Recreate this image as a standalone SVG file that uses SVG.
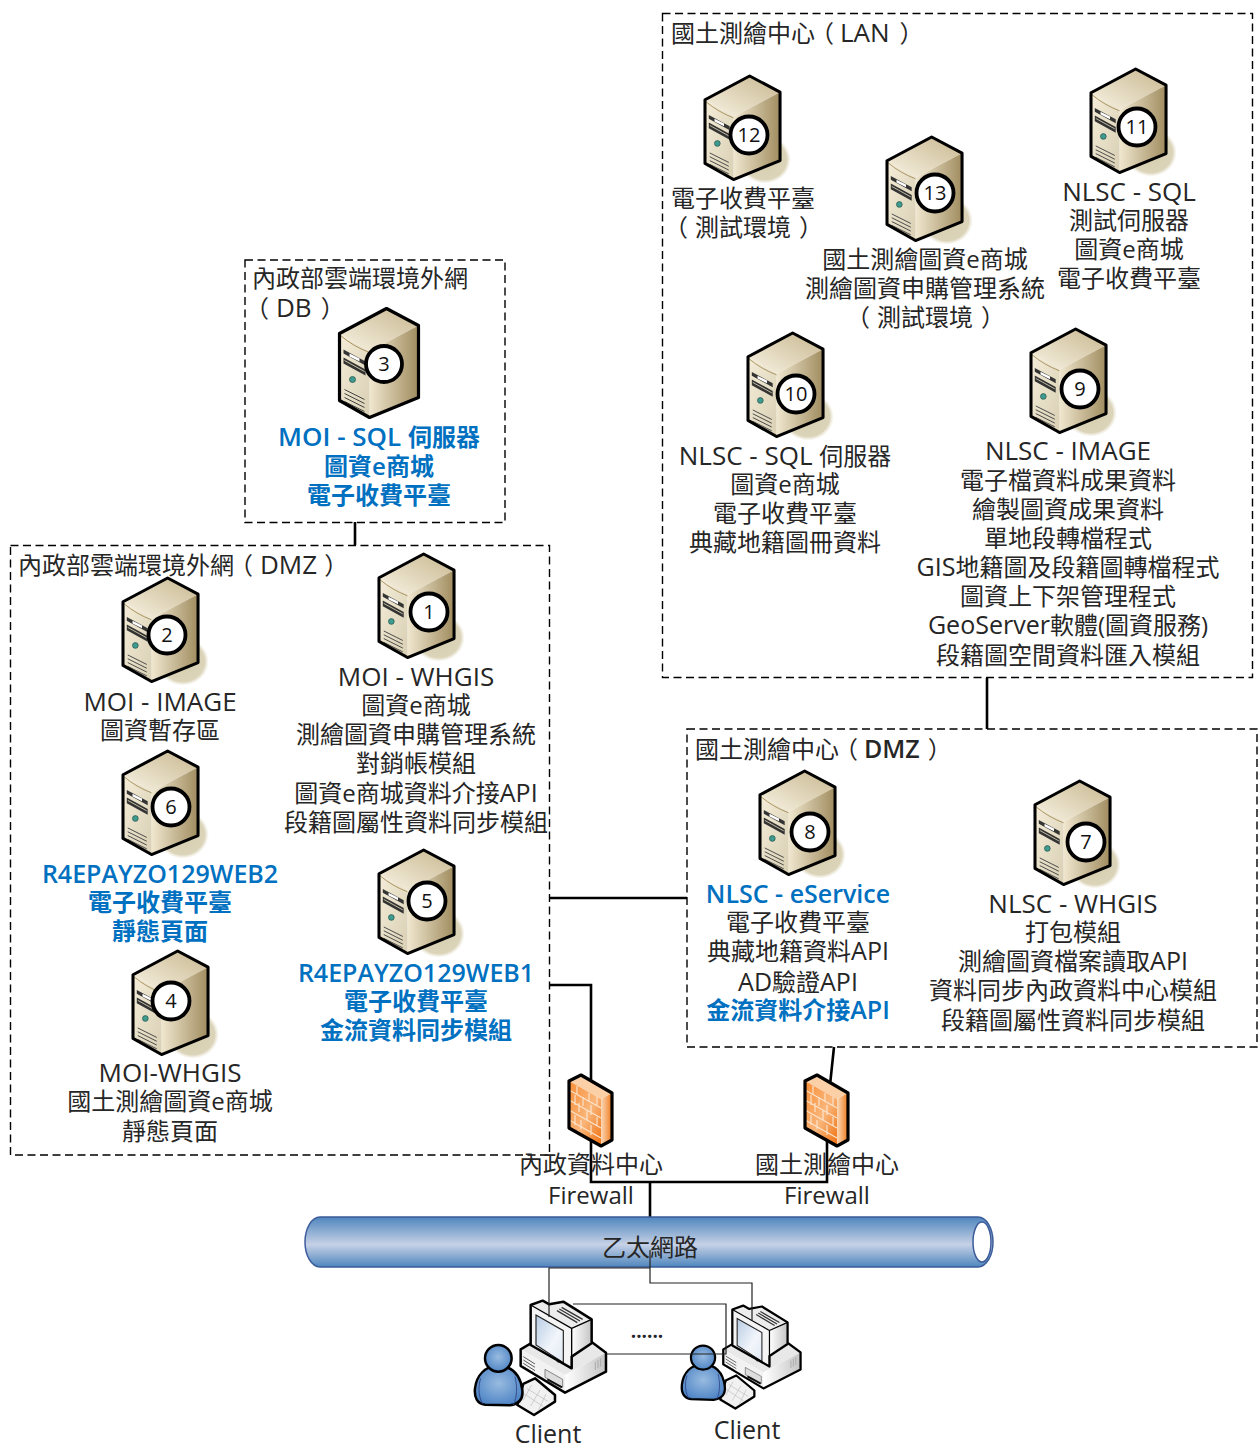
<svg xmlns="http://www.w3.org/2000/svg" width="1260" height="1448" viewBox="0 0 1260 1448">
<style>
text{font-family:"Open Sans","Noto Sans CJK TC",sans-serif;font-size:24px;fill:#262626}
.m{text-anchor:middle}
.b{fill:#0070c0;font-weight:600}
.bold{font-weight:600}
.l{font-size:26px}
.s{font-size:25px}
.box{fill:none;stroke:#000;stroke-width:1.4;stroke-dasharray:8 4.500}
.con{fill:none;stroke:#000;stroke-width:2.6}
.thin{fill:none;stroke:#222;stroke-width:1.200}
.badge{fill:#fff;stroke:#000;stroke-width:3.8}
.bt{font-size:20px;text-anchor:middle;fill:#111}
.ol{stroke:#000;stroke-width:3.200;stroke-linejoin:round}
.pc{stroke:#000;stroke-width:7.500;stroke-linejoin:round}
</style>
<defs>
<linearGradient id="sf" x1="0" y1="0" x2="1" y2="1"><stop offset="0" stop-color="#f5edd8"/><stop offset="1" stop-color="#d8cfb4"/></linearGradient>
<linearGradient id="ss" x1="0" y1="0" x2="1" y2="0"><stop offset="0" stop-color="#f0e7cf"/><stop offset="1" stop-color="#a08c5f"/></linearGradient>
<linearGradient id="st" x1="0" y1="1" x2="1" y2="0"><stop offset="0" stop-color="#f8f3e4"/><stop offset="1" stop-color="#c8b78f"/></linearGradient>
<radialGradient id="sh"><stop offset="0" stop-color="#d6ceae"/><stop offset=".85" stop-color="#dbd4b9"/><stop offset="1" stop-color="#ece8d8" stop-opacity=".2"/></radialGradient>
<linearGradient id="ff" x1="0" y1="0" x2="1" y2="1"><stop offset="0" stop-color="#f88d36"/><stop offset=".55" stop-color="#f9b67a"/><stop offset="1" stop-color="#f07010"/></linearGradient>
<linearGradient id="fs" x1="0" y1="0" x2="1" y2="0"><stop offset="0" stop-color="#fbd9b8"/><stop offset="1" stop-color="#ef7a1c"/></linearGradient>
<linearGradient id="pipe" x1="0" y1="0" x2="0" y2="1"><stop offset="0" stop-color="#4f86bd"/><stop offset=".55" stop-color="#c6d1e6"/><stop offset="1" stop-color="#4f86bd"/></linearGradient>
<radialGradient id="ub" cx=".5" cy=".45" r=".6"><stop offset="0" stop-color="#98bbe0"/><stop offset="1" stop-color="#4b82c4"/></radialGradient>
<linearGradient id="scr" x1="0" y1="0" x2="1" y2="1"><stop offset="0" stop-color="#b8cce4"/><stop offset=".6" stop-color="#f2f6fb"/><stop offset="1" stop-color="#dfe7f2"/></linearGradient>
<linearGradient id="gr" x1="0" y1="0" x2="1" y2="0"><stop offset="0" stop-color="#fff"/><stop offset="1" stop-color="#c4c4c4"/></linearGradient>
<g id="srv">
<polygon points="0,25 47,0 79,17 30,43" fill="url(#st)"/>
<polygon points="30,43 79,17 79,89 30,109" fill="url(#ss)"/>
<polygon points="0,25 30,43 30,109 0,92" fill="url(#sf)"/>
<path d="M1,27Q14,38 30,44" fill="none" stroke="#a8925f" stroke-width="1"/>
<polygon points="4,41 26,53 26,57 4,45" fill="#333"/>
<polygon points="10,45 20,50 20,53 10,48" fill="#fff"/>
<polygon points="4,49 26,61 26,67 4,55" fill="#333"/>
<path d="M5,52L25,63" stroke="#c9c1a6" stroke-width="1" fill="none"/>
<circle cx="13" cy="71" r="3" fill="#3f9b8f" stroke="#2b5a50" stroke-width=".8"/>
<path d="M5,81L25,91M5,85L25,95M5,89L25,99M5,93L25,103" stroke="#444" stroke-width="1" fill="none"/>
<polygon points="0,25 47,0 79,17 79,89 30,109 0,92" fill="none" class="ol"/>
</g>
<ellipse id="shd" cx="63" cy="88" rx="27" ry="25" fill="url(#sh)"/>
<g id="fw">
<polygon points="0,6 12,0 43,18 32,24" fill="#fbd0a6"/>
<polygon points="0,6 32,24 32,71 0,53" fill="url(#ff)"/>
<polygon points="32,24 43,18 43,65 32,71" fill="url(#fs)"/>
<path d="M0,15L32,33M0,25L32,43M0,35L32,53M0,45L32,63M8,11V20M20,18V27M28,22V31M14,22V31M6,20V30M22,30V40M10,28V37M6,40V50M18,35V45M28,42V51M12,45V54M22,50V60" stroke="#fbe3cb" stroke-width="1.200" fill="none"/>
<polygon points="0,6 12,0 43,18 43,65 32,71 0,53" fill="none" class="ol"/>
</g>
<g id="pc">
<polygon points="182,268 250,228 380,235 438,278 315,345" fill="#e8e8e8"/>
<polygon points="182,268 315,345 315,398 182,318" fill="#f2f2f2"/>
<polygon points="315,345 438,278 438,335 315,398" fill="url(#gr)"/>
<path d="M190,290L225,312M190,300L225,322M190,310L225,332M190,320L220,338" stroke="#333" stroke-width="2.400"/>
<path d="M406,305V330M414,300V325M422,295V320" stroke="#aaa" stroke-width="3"/>
<polygon points="255,328 308,358 308,382 255,352" fill="#ddd" stroke="#555" stroke-width="2"/>
<path d="M262,358L306,382" stroke="#111" stroke-width="6"/>
<polygon points="182,268 250,228 380,235 438,278 438,335 315,398 182,318" fill="none" class="pc"/>
<polygon points="335,205 395,178 395,250 335,290" fill="url(#gr)"/>
<polygon points="212,135 248,122 268,133 310,125 395,178 335,205" fill="#ececec"/>
<path d="M305,142L368,178M298,147L360,183M291,152L352,188" stroke="#333" stroke-width="4"/>
<polygon points="212,135 335,205 335,325 212,255" fill="#f4f4f4"/>
<polygon points="228,165 310,212 310,308 228,255" fill="url(#scr)" stroke="#222" stroke-width="3.500"/>
<circle cx="295" cy="303" r="4" fill="#eee" stroke="#111" stroke-width="2"/>
<polygon points="212,135 248,122 268,133 310,125 395,178 395,250 335,290 335,325 212,255" fill="none" class="pc"/>
<path d="M212,135L335,205V325M335,205L395,178" stroke="#000" stroke-width="4" fill="none"/>
<polygon points="190,372 225,355 285,405 285,425 222,465 172,435" fill="#f1f1f1" class="pc"/>
<path d="M200,385L265,425M190,400L250,440M215,375L190,420M240,390L212,438M258,402L235,452" stroke="#bbb" stroke-width="2" fill="none"/>
<path d="M45,385C50,345 75,320 115,316C160,320 182,350 187,390C190,415 180,432 150,436L75,434C52,432 42,412 45,385Z" fill="url(#ub)" class="pc"/>
<path d="M62,355C52,385 58,415 68,432M165,350C172,380 172,410 160,435" stroke="#2c3e80" stroke-width="2.500" fill="none"/>
<circle cx="115" cy="295" r="40" fill="url(#ub)" class="pc"/>
</g>
</defs>

<g id="frames">
<rect class="box" x="662.5" y="13.5" width="590" height="664"/>
<rect class="box" x="245" y="260" width="260" height="262.500"/>
<rect class="box" x="10.500" y="545.500" width="539" height="609.500"/>
<rect class="box" x="687" y="729" width="570" height="318"/>
</g>

<g id="connectors-back">
<path class="con" d="M355,522V545M987,678V729M550,898H687M550,985H591V1085M591,1140V1182H827V1140M834,1047L830,1085M650,1182V1217"/>
</g>

<g id="ethernet">
<path d="M320,1217H978A15,25 0 0 1 978,1267H320A15,25 0 0 1 320,1217Z" fill="url(#pipe)" stroke="#3b5b9a" stroke-width="1.500"/>
<ellipse cx="982" cy="1242" rx="9" ry="20" fill="#fff" stroke="#3b5b9a" stroke-width="1.500"/>
<text class="m" x="650" y="1256">乙太網路</text>
</g>

<g id="client-left"><use href="#pc" transform="translate(460,1260) scale(.3333)"/><text class="m s" x="548" y="1443">Client</text></g>
<g id="client-right"><use href="#pc" transform="translate(668.300,1269) scale(.302,.3)"/><text class="m s" x="747" y="1439">Client</text></g>

<g id="connectors">
<path class="thin" d="M650,1250V1283H752V1320M650,1268H549V1317M573,1304H726V1354H690M607,1354H690"/>
</g>
<text id="dots" class="m" x="647" y="1338" style="font-size:19px;font-weight:700">......</text>

<g id="firewall-moi"><use href="#fw" x="569" y="1075"/><text class="m" x="591" y="1173">內政資料中心</text><text class="m" x="591" y="1204">Firewall</text></g>
<g id="firewall-nlsc"><use href="#fw" x="805" y="1075"/><text class="m" x="827" y="1173">國土測繪中心</text><text class="m" x="827" y="1204">Firewall</text></g>

<g id="title-lan"><text x="671" y="42">國土測繪中心<tspan dx="-5">（</tspan><tspan class="l" dx="6">LAN</tspan><tspan dx="10">）</tspan></text></g>
<g id="title-db"><text x="252" y="317"><tspan dx="-7">（</tspan><tspan class="l" dx="7">DB</tspan><tspan dx="9">）</tspan></text><text x="252" y="287">內政部雲端環境外網</text></g>
<g id="title-dmz"><text x="18" y="574">內政部雲端環境外網<tspan dx="-5">（</tspan><tspan class="l" dx="7">DMZ</tspan><tspan dx="7">）</tspan></text></g>
<g id="title-ndmz"><text x="695" y="758">國土測繪中心<tspan dx="-5">（</tspan><tspan class="bold s" dx="6">DMZ</tspan><tspan dx="8">）</tspan></text></g>

<g id="node-12"><use href="#shd" transform="translate(705,76) scale(.95)"/><use href="#srv" transform="translate(705,76) scale(.95)"/><circle class="badge" cx="749" cy="135" r="18.500"/><text class="bt" x="749" y="142">12</text>
<text class="m" x="743" y="207">電子收費平臺</text><text x="671" y="236"><tspan dx="-7">（</tspan><tspan dx="7">測試環境</tspan><tspan dx="8">）</tspan></text></g>
<g id="node-11"><use href="#shd" transform="translate(1091,69) scale(.95)"/><use href="#srv" transform="translate(1091,69) scale(.95)"/><circle class="badge" cx="1137" cy="127" r="18.500"/><text class="bt" x="1137" y="134">11</text>
<text class="m l" x="1129" y="201">NLSC - SQL</text><text class="m" x="1129" y="229">測試伺服器</text><text class="m" x="1129" y="258">圖資e商城</text><text class="m" x="1129" y="287">電子收費平臺</text></g>
<g id="node-13"><use href="#shd" transform="translate(887,137) scale(.95)"/><use href="#srv" transform="translate(887,137) scale(.95)"/><circle class="badge" cx="935" cy="193" r="18.500"/><text class="bt" x="935" y="200">13</text>
<text class="m" x="925" y="268">國土測繪圖資e商城</text><text class="m" x="925" y="297">測繪圖資申購管理系統</text><text x="853" y="326"><tspan dx="-7">（</tspan><tspan dx="7">測試環境</tspan><tspan dx="8">）</tspan></text></g>
<g id="node-10"><use href="#shd" transform="translate(748,333) scale(.95)"/><use href="#srv" transform="translate(748,333) scale(.95)"/><circle class="badge" cx="796" cy="394" r="18.500"/><text class="bt" x="796" y="401">10</text>
<text class="m" x="785" y="465"><tspan class="l">NLSC - SQL </tspan>伺服器</text><text class="m" x="785" y="493">圖資e商城</text><text class="m" x="785" y="522">電子收費平臺</text><text class="m" x="785" y="551">典藏地籍圖冊資料</text></g>
<g id="node-9"><use href="#shd" transform="translate(1031,329) scale(.95)"/><use href="#srv" transform="translate(1031,329) scale(.95)"/><circle class="badge" cx="1080" cy="389" r="18.500"/><text class="bt" x="1080" y="396">9</text>
<text class="m l" x="1068" y="460">NLSC - IMAGE</text><text class="m" x="1068" y="489">電子檔資料成果資料</text><text class="m" x="1068" y="518">繪製圖資成果資料</text><text class="m" x="1068" y="547">單地段轉檔程式</text><text class="m" x="1068" y="576"><tspan class="s">GIS</tspan>地籍圖及段籍圖轉檔程式</text><text class="m" x="1068" y="605">圖資上下架管理程式</text><text class="m" x="1068" y="634"><tspan class="s">GeoServer</tspan>軟體(圖資服務)</text><text class="m" x="1068" y="664">段籍圖空間資料匯入模組</text></g>
<g id="node-3"><use href="#srv" x="339.500" y="308.500"/><circle class="badge" cx="384" cy="364" r="18"/><text class="bt" x="384" y="371">3</text>
<text class="m b" x="379" y="446"><tspan class="l">MOI - SQL </tspan>伺服器</text><text class="m b" x="379" y="475">圖資e商城</text><text class="m b" x="379" y="504">電子收費平臺</text></g>
<g id="node-2"><use href="#shd" transform="translate(123,578) scale(.95)"/><use href="#srv" transform="translate(123,578) scale(.95)"/><circle class="badge" cx="167" cy="635" r="18.500"/><text class="bt" x="167" y="642">2</text>
<text class="m l" x="160" y="711">MOI - IMAGE</text><text class="m" x="160" y="739">圖資暫存區</text></g>
<g id="node-1"><use href="#shd" transform="translate(379,554) scale(.95)"/><use href="#srv" transform="translate(379,554) scale(.95)"/><circle class="badge" cx="429" cy="612" r="18.500"/><text class="bt" x="429" y="619">1</text>
<text class="m l" x="416" y="686">MOI - WHGIS</text><text class="m" x="416" y="714">圖資e商城</text><text class="m" x="416" y="743">測繪圖資申購管理系統</text><text class="m" x="416" y="772">對銷帳模組</text><text class="m" x="416" y="802">圖資e商城資料介接<tspan class="s">API</tspan></text><text class="m" x="416" y="831">段籍圖屬性資料同步模組</text></g>
<g id="node-6"><use href="#shd" transform="translate(123,751) scale(.95)"/><use href="#srv" transform="translate(123,751) scale(.95)"/><circle class="badge" cx="171" cy="807" r="18.500"/><text class="bt" x="171" y="814">6</text>
<text class="m b s" x="160" y="883">R4EPAYZO129WEB2</text><text class="m b" x="160" y="911">電子收費平臺</text><text class="m b" x="160" y="940">靜態頁面</text></g>
<g id="node-5"><use href="#shd" transform="translate(379,850) scale(.95)"/><use href="#srv" transform="translate(379,850) scale(.95)"/><circle class="badge" cx="427" cy="901" r="18.500"/><text class="bt" x="427" y="908">5</text>
<text class="m b s" x="416" y="982">R4EPAYZO129WEB1</text><text class="m b" x="416" y="1010">電子收費平臺</text><text class="m b" x="416" y="1039">金流資料同步模組</text></g>
<g id="node-4"><use href="#shd" transform="translate(133,951) scale(.95)"/><use href="#srv" transform="translate(133,951) scale(.95)"/><circle class="badge" cx="171" cy="1001" r="18.500"/><text class="bt" x="171" y="1008">4</text>
<text class="m l" x="170" y="1082">MOI-WHGIS</text><text class="m" x="170" y="1110">國土測繪圖資e商城</text><text class="m" x="170" y="1140">靜態頁面</text></g>
<g id="node-8"><use href="#shd" transform="translate(760,771) scale(.95)"/><use href="#srv" transform="translate(760,771) scale(.95)"/><circle class="badge" cx="810" cy="832" r="18.500"/><text class="bt" x="810" y="839">8</text>
<text class="m b s" x="798" y="903">NLSC - eService</text><text class="m" x="798" y="931">電子收費平臺</text><text class="m" x="798" y="960">典藏地籍資料<tspan class="s">API</tspan></text><text class="m" x="798" y="991"><tspan class="s">AD</tspan>驗證<tspan class="s">API</tspan></text><text class="m b" x="798" y="1019">金流資料介接<tspan class="s">API</tspan></text></g>
<g id="node-7"><use href="#shd" transform="translate(1035,781) scale(.95)"/><use href="#srv" transform="translate(1035,781) scale(.95)"/><circle class="badge" cx="1086" cy="842" r="18.500"/><text class="bt" x="1086" y="849">7</text>
<text class="m l" x="1073" y="913">NLSC - WHGIS</text><text class="m" x="1073" y="941">打包模組</text><text class="m" x="1073" y="970">測繪圖資檔案讀取<tspan class="s">API</tspan></text><text class="m" x="1073" y="999">資料同步內政資料中心模組</text><text class="m" x="1073" y="1029">段籍圖屬性資料同步模組</text></g>
</svg>
